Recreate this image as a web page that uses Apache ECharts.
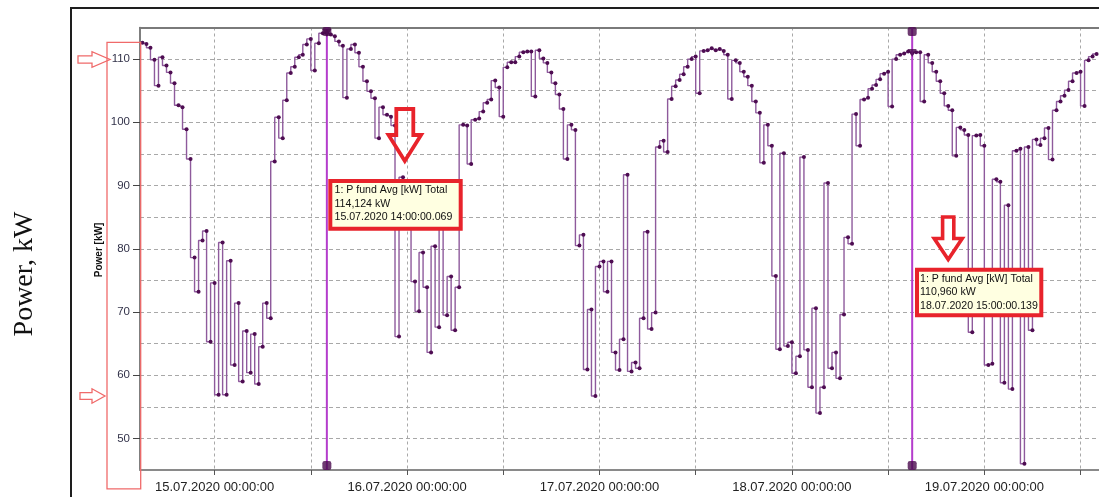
<!DOCTYPE html>
<html><head><meta charset="utf-8">
<script src="https://cdn.jsdelivr.net/npm/echarts@6/dist/echarts.min.js"></script>
<style>html,body{margin:0;padding:0;background:#fff}#c{width:1099px;height:497px}</style>
</head><body><div id="c"></div>
<script>
// ---------- data ----------
const firstSample = [2020, 7, 14, 15, 0];   // 14.07.2020 15:00 (Y, M, D, h, m)
const stepMinutes = 30;
const powerKW = [
112.6,112.4,111.8,109.9,105.8,110.3,109.0,107.9,106.2,102.7,102.4,98.9,
94.2,78.6,73.2,81.3,82.8,65.3,74.6,56.9,81.0,56.9,78.1,61.6,
71.4,59.0,67.0,60.4,66.5,58.6,64.5,71.4,69.0,93.8,100.8,97.5,
103.5,107.8,108.8,110.3,110.7,112.3,113.2,108.2,112.5,114.1,114.124,113.9,
113.6,112.8,112.1,103.9,111.6,112.3,111.0,108.8,106.5,104.9,103.8,97.5,
102.4,101.2,100.9,99.5,66.1,91.3,84.0,88.0,74.8,70.1,79.4,73.9,
63.6,80.4,67.6,84.0,69.5,75.6,67.1,73.9,99.6,99.5,93.4,100.4,
100.6,101.7,103.1,103.6,106.6,105.5,100.9,108.7,109.5,109.5,110.4,111.1,
111.2,111.2,104.1,111.4,110.1,109.4,107.9,106.2,104.4,102.1,94.2,99.6,
98.8,80.5,82.2,60.9,70.4,56.7,77.2,78.0,73.2,78.0,63.6,60.8,
65.7,91.7,60.6,62.0,61.1,69.0,82.7,67.3,69.9,96.1,97.1,95.3,
103.7,105.7,106.7,107.6,108.8,110.0,110.4,104.6,111.3,111.4,111.7,111.4,
111.6,111.3,110.7,103.7,109.8,109.4,108.0,107.2,105.8,103.3,101.5,93.6,
99.6,96.3,75.7,64.1,95.1,64.6,65.2,60.3,63.0,94.5,64.0,58.1,
70.6,54.0,58.1,90.4,61.1,63.6,59.5,69.6,81.8,80.8,101.3,96.3,
103.6,103.9,105.3,105.9,106.8,107.7,108.0,102.5,110.0,110.7,110.9,111.2,
110.96,111.1,111.1,103.3,110.7,109.4,108.0,106.5,104.6,102.6,101.9,94.7,
99.2,98.8,98.0,66.8,97.9,98.0,96.3,61.6,61.8,91.0,90.6,58.8,
86.9,57.8,95.5,95.8,46.0,96.1,67.1,97.3,96.4,97.5,99.1,94.1,
101.9,103.3,104.2,105.1,106.5,107.8,108.0,102.6,109.8,110.4,110.8
];
const xTickLabels = ['15.07.2020 00:00:00','16.07.2020 00:00:00','17.07.2020 00:00:00','18.07.2020 00:00:00','19.07.2020 00:00:00'];
const yTickLabels = [50, 60, 70, 80, 90, 100, 110];
const cursorTimes = ['15.07.2020 14:00:00', '18.07.2020 15:00:00'];
const cursorValues = [114.124, 110.960];
const cursorTexts = [
  ['1: P fund Avg [kW] Total', '114,124 kW', '15.07.2020 14:00:00.069'],
  ['1: P fund Avg [kW] Total', '110,960 kW', '18.07.2020 15:00:00.139']
];
const yRange = [45, 115];
const xRangeHours = [-9.304, 110.30];   // hours relative to 15.07.2020 00:00

// ---------- helpers ----------
const HOUR = 3600e3;
function parseStamp(s){ // 'dd.mm.yyyy HH:MM:SS'
  const m = s.match(/(\d+)\.(\d+)\.(\d+) (\d+):(\d+):(\d+)/);
  return Date.UTC(+m[3], +m[2]-1, +m[1], +m[4], +m[5], +m[6]);
}
const t0 = parseStamp(xTickLabels[0]);
const start = Date.UTC(firstSample[0], firstSample[1]-1, firstSample[2], firstSample[3], firstSample[4]);
const points = powerKW.map((v,i)=>[start + i*stepMinutes*60000, v]);
const xMin = t0 + xRangeHours[0]*HOUR, xMax = t0 + xRangeHours[1]*HOUR;
const labelVals = xTickLabels.map(parseStamp);
const tickVals = [];
for (let v = t0 - 12*HOUR; v <= xMax; v += 12*HOUR) if (v >= xMin) tickVals.push(v);
const cursorX = cursorTimes.map(parseStamp);

const purple = '#8e5a9c', dot = '#4e0d52', cursorCol = '#b43ccc';
const baseFont = '"Liberation Sans", Arial, sans-serif';

const series = [{
  type:'line', data: points, step:'start', symbol:'circle', symbolSize:4, showSymbol:true,
  lineStyle:{color:purple, width:1.4}, itemStyle:{color:dot}, z:3, clip:true
}];
cursorX.forEach((cx,i)=>{
  series.push({type:'line', data:[[cx,yRange[0]],[cx,yRange[1]]], symbol:'none',
    lineStyle:{color:cursorCol, width:2}, z:4, silent:true});
  series.push({type:'scatter', z:5, silent:true, itemStyle:{color:'#4a0a4e'},
    data:[{value:[cx,yRange[0]], symbol:'roundRect', symbolSize:[9,9], symbolOffset:[0,-4.5]},
          {value:[cx,yRange[1]], symbol:'roundRect', symbolSize:[9,9], symbolOffset:[0,4]},
          {value:[cx,cursorValues[i]], symbol:'triangle', symbolRotate:180, symbolSize:[9,8]}]});
});

const option = {
  animation:false,
  backgroundColor:'#fff',
  grid:{left:140, right:0, top:27.5, bottom:27, containLabel:false},
  xAxis:[{
    type:'value', min:xMin, max:xMax, position:'bottom',
    axisLine:{show:true, onZero:false, lineStyle:{color:'#8a8a8a', width:2}},
    axisTick:{show:true, customValues:tickVals, length:5, lineStyle:{color:'#555'}},
    axisLabel:{show:true, customValues:labelVals, margin:11, color:'#222', fontSize:13, fontFamily:baseFont,
      formatter:(v)=>{const i = labelVals.indexOf(v); return i>=0 ? xTickLabels[i] : '';}},
    splitLine:{show:true, lineStyle:{color:'#a8a8a8', type:[3,3], width:1}}
  },{
    type:'value', min:xMin, max:xMax, position:'top',
    axisLine:{show:true, onZero:false, lineStyle:{color:'#7a7a7a', width:2}},
    axisTick:{show:false}, axisLabel:{show:false}, splitLine:{show:false}
  }],
  yAxis:[{
    type:'value', min:yRange[0], max:yRange[1], position:'left',
    axisLine:{show:true, onZero:false, lineStyle:{color:'#555', width:1.5}},
    axisTick:{show:true, customValues:yTickLabels, length:7, lineStyle:{color:'#444'}},
    axisLabel:{show:true, customValues:yTickLabels, margin:10, color:'#33334a', fontSize:11.5, fontFamily:baseFont},
    splitLine:{show:false}
  },{
    type:'value', min:yRange[0], max:yRange[1], interval:5, position:'left',
    axisLine:{show:false}, axisTick:{show:false}, axisLabel:{show:false},
    splitLine:{show:true, lineStyle:{color:'#a8a8a8', type:[4,3], width:1}}
  }],
  series: series,
  graphic: []
};

const chart = echarts.init(document.getElementById('c'));
chart.setOption(option);

// ---------- annotations (frame, labels, call-outs) ----------
const red = '#e8232b', lightRed = '#f06a6a';
function tipBox(x0,y0,x1,y1,lines,tx,ty,lh){
  const els = [{type:'rect', shape:{x:x0+2,y:y0+2,width:x1-x0-4,height:y1-y0-4},
    style:{fill:'#ffffe1', stroke:red, lineWidth:4}, z:50}];
  lines.forEach((s,i)=>els.push({type:'text', x:tx, y:ty+i*lh, z:51,
    style:{text:s, font:'10.6px '+baseFont, fill:'#111', align:'left', verticalAlign:'middle'}}));
  return els;
}
function downArrow(cx, top, shaftHalf, headTop, headHalf, tip, lw){
  return {type:'polygon', z:52, shape:{points:[[cx-shaftHalf,top],[cx+shaftHalf,top],[cx+shaftHalf,headTop],
    [cx+headHalf,headTop],[cx,tip],[cx-headHalf,headTop],[cx-shaftHalf,headTop]]},
    style:{fill:'rgba(0,0,0,0)', stroke:red, lineWidth:lw, lineJoin:'miter'}};
}
function rightArrow(x0, cy, shaftHalf, headX, headHalf, tipX){
  return {type:'polygon', z:52, shape:{points:[[x0,cy-shaftHalf],[headX,cy-shaftHalf],[headX,cy-headHalf],
    [tipX,cy],[headX,cy+headHalf],[headX,cy+shaftHalf],[x0,cy+shaftHalf]]},
    style:{fill:'rgba(0,0,0,0)', stroke:lightRed, lineWidth:1.3}};
}
const g = [];
g.push({type:'rect', z:1, shape:{x:71,y:8,width:1200,height:600}, style:{fill:'rgba(0,0,0,0)', stroke:'#1e1e1e', lineWidth:2}});
g.push({type:'rect', z:53, shape:{x:107,y:42.3,width:33.7,height:446.5}, style:{fill:'rgba(0,0,0,0)', stroke:lightRed, lineWidth:1.3}});
g.push(rightArrow(78, 59.5, 3.7, 92, 7.8, 110));
g.push(rightArrow(80, 396, 3.3, 92, 7.2, 105));
g.push({type:'text', x:25, y:274, rotation:Math.PI/2, z:54,
  style:{text:'Power, kW', font:'28px "Liberation Serif", "Times New Roman", serif', fill:'#111', align:'center', verticalAlign:'middle'}});
g.push({type:'text', x:99, y:250, rotation:Math.PI/2, z:54,
  style:{text:'Power [kW]', font:'bold 10px '+baseFont, fill:'#111', align:'center', verticalAlign:'middle'}});
tipBox(328.3,179,462.7,230.7,cursorTexts[0],334.5,190.5,13.4).forEach(e=>g.push(e));
tipBox(915,267.7,1043.3,317.3,cursorTexts[1],920,278.8,13.6).forEach(e=>g.push(e));
g.push(downArrow(404.8, 109, 8.5, 135, 16.3, 161, 3.8));
g.push(downArrow(948.2, 217, 5.6, 238.5, 14, 259.5, 3.6));
chart.setOption({graphic: g});
</script>
</body></html>
